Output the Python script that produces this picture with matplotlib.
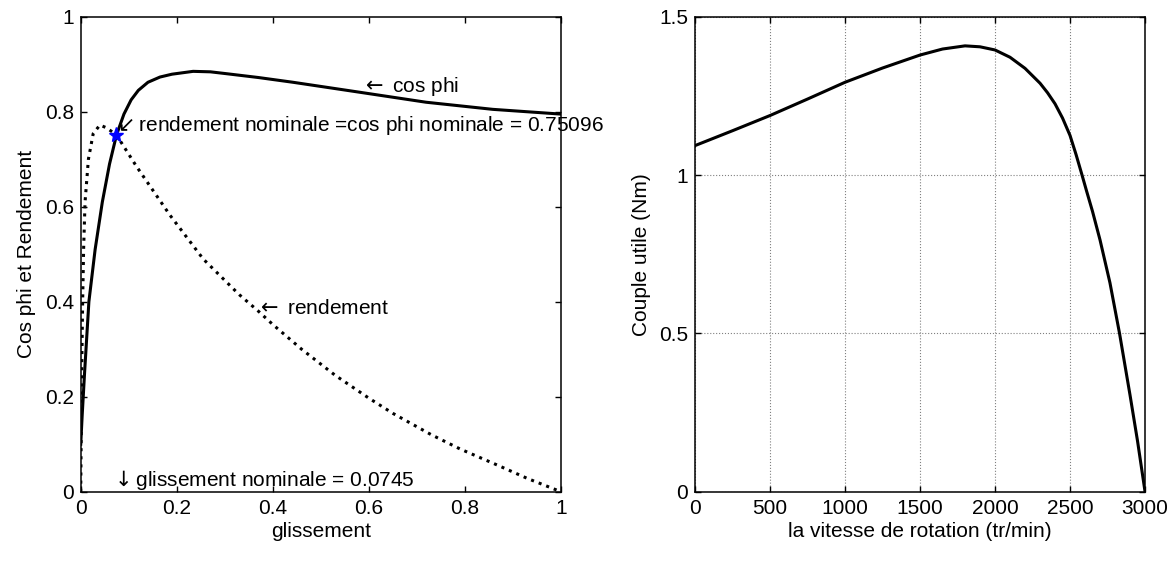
import matplotlib
matplotlib.use('Agg')
import matplotlib.pyplot as plt

plt.rcParams['font.family'] = ['Liberation Sans', 'DejaVu Sans']
plt.rcParams['font.size'] = 15
plt.rcParams['mathtext.fontset'] = 'dejavusans'

# glissement / cos phi / rendement
GLISS_COS = [0, 0.003, 0.008, 0.017, 0.03, 0.045, 0.06, 0.0745, 0.09, 0.105, 0.12,
             0.14, 0.165, 0.19, 0.234, 0.27, 0.304, 0.37, 0.442, 0.581, 0.719, 0.858, 1.0]
COS_PHI = [0.10, 0.16, 0.25, 0.40, 0.51, 0.61, 0.69, 0.751, 0.795, 0.825, 0.845,
           0.862, 0.873, 0.879, 0.885, 0.884, 0.880, 0.872, 0.862, 0.841, 0.820, 0.805, 0.795]

GLISS_REND = [0, 0.001, 0.002, 0.004, 0.006, 0.009, 0.016, 0.026, 0.04, 0.054, 0.0745,
              0.116, 0.186, 0.255, 0.29, 0.33, 0.37, 0.40, 0.46, 0.53, 0.6, 0.65,
              0.73, 0.79, 0.87, 0.93, 1.0]
RENDEMENT = [0, 0.12, 0.25, 0.40, 0.51, 0.61, 0.70, 0.754, 0.772, 0.766, 0.751,
             0.685, 0.582, 0.49, 0.455, 0.415, 0.38, 0.352, 0.30, 0.245, 0.197, 0.165,
             0.12, 0.09, 0.055, 0.028, 0.0]

G_NOM = 0.0745
ETA_NOM = 0.75096

# couple utile vs vitesse
VITESSE = [0, 250, 500, 750, 1000, 1250, 1500, 1650, 1800, 1900, 2000, 2100, 2200,
           2300, 2350, 2400, 2450, 2500, 2540, 2580, 2610, 2650, 2700, 2766, 2830,
           2900, 2950, 3000]
COUPLE = [1.093, 1.14, 1.188, 1.24, 1.293, 1.338, 1.379, 1.398, 1.408, 1.405, 1.395,
          1.372, 1.337, 1.29, 1.26, 1.225, 1.18, 1.125, 1.065, 1.0, 0.95, 0.885,
          0.795, 0.66, 0.50, 0.305, 0.16, 0.0]


def style_matlab(ax):
    ax.tick_params(direction='in', top=True, right=True, length=4, width=1, pad=5)
    for sp in ax.spines.values():
        sp.set_linewidth(1.1)


fig = plt.figure(figsize=(11.75, 5.65), dpi=100)

ax1 = fig.add_axes([0.0687, 0.1297, 0.4087, 0.8407])
ax1.plot(GLISS_COS, COS_PHI, color='black', lw=2.2)
ax1.plot(GLISS_REND, RENDEMENT, color='black', lw=2.2, linestyle=':')
ax1.plot([G_NOM], [ETA_NOM], marker='*', color='blue', markersize=11, linestyle='none')
ax1.set_xlim(0, 1)
ax1.set_ylim(0, 1)
ax1.set_xticks([0, 0.2, 0.4, 0.6, 0.8, 1])
ax1.set_xticklabels(['0', '0.2', '0.4', '0.6', '0.8', '1'])
ax1.set_yticks([0, 0.2, 0.4, 0.6, 0.8, 1])
ax1.set_yticklabels(['0', '0.2', '0.4', '0.6', '0.8', '1'])
ax1.set_xlabel('glissement', labelpad=3)
ax1.set_ylabel('Cos phi et Rendement', labelpad=6)
style_matlab(ax1)
ax1.text(0.584, 0.854, r'$\leftarrow$ cos phi', va='center', ha='left')
ax1.text(0.364, 0.386, r'$\leftarrow$ rendement', va='center', ha='left')
ax1.text(0.068, 0.772, r'$\swarrow$rendement nominale =cos phi nominale = 0.75096',
         va='center', ha='left', clip_on=False)
ax1.text(0.062, 0.025, r'$\downarrow$glissement nominale = 0.0745', va='center', ha='left')

ax2 = fig.add_axes([0.5915, 0.1297, 0.383, 0.8407])
ax2.plot(VITESSE, COUPLE, color='black', lw=2.2)
ax2.set_xlim(0, 3000)
ax2.set_ylim(0, 1.5)
ax2.set_xticks([0, 500, 1000, 1500, 2000, 2500, 3000])
ax2.set_yticks([0, 0.5, 1, 1.5])
ax2.set_yticklabels(['0', '0.5', '1', '1.5'])
ax2.grid(True, linestyle=':', color='gray', linewidth=0.8)
ax2.set_xlabel('la vitesse de rotation (tr/min)', labelpad=3)
ax2.set_ylabel('Couple utile (Nm)', labelpad=6)
style_matlab(ax2)

fig.savefig('out.png', dpi=100)
